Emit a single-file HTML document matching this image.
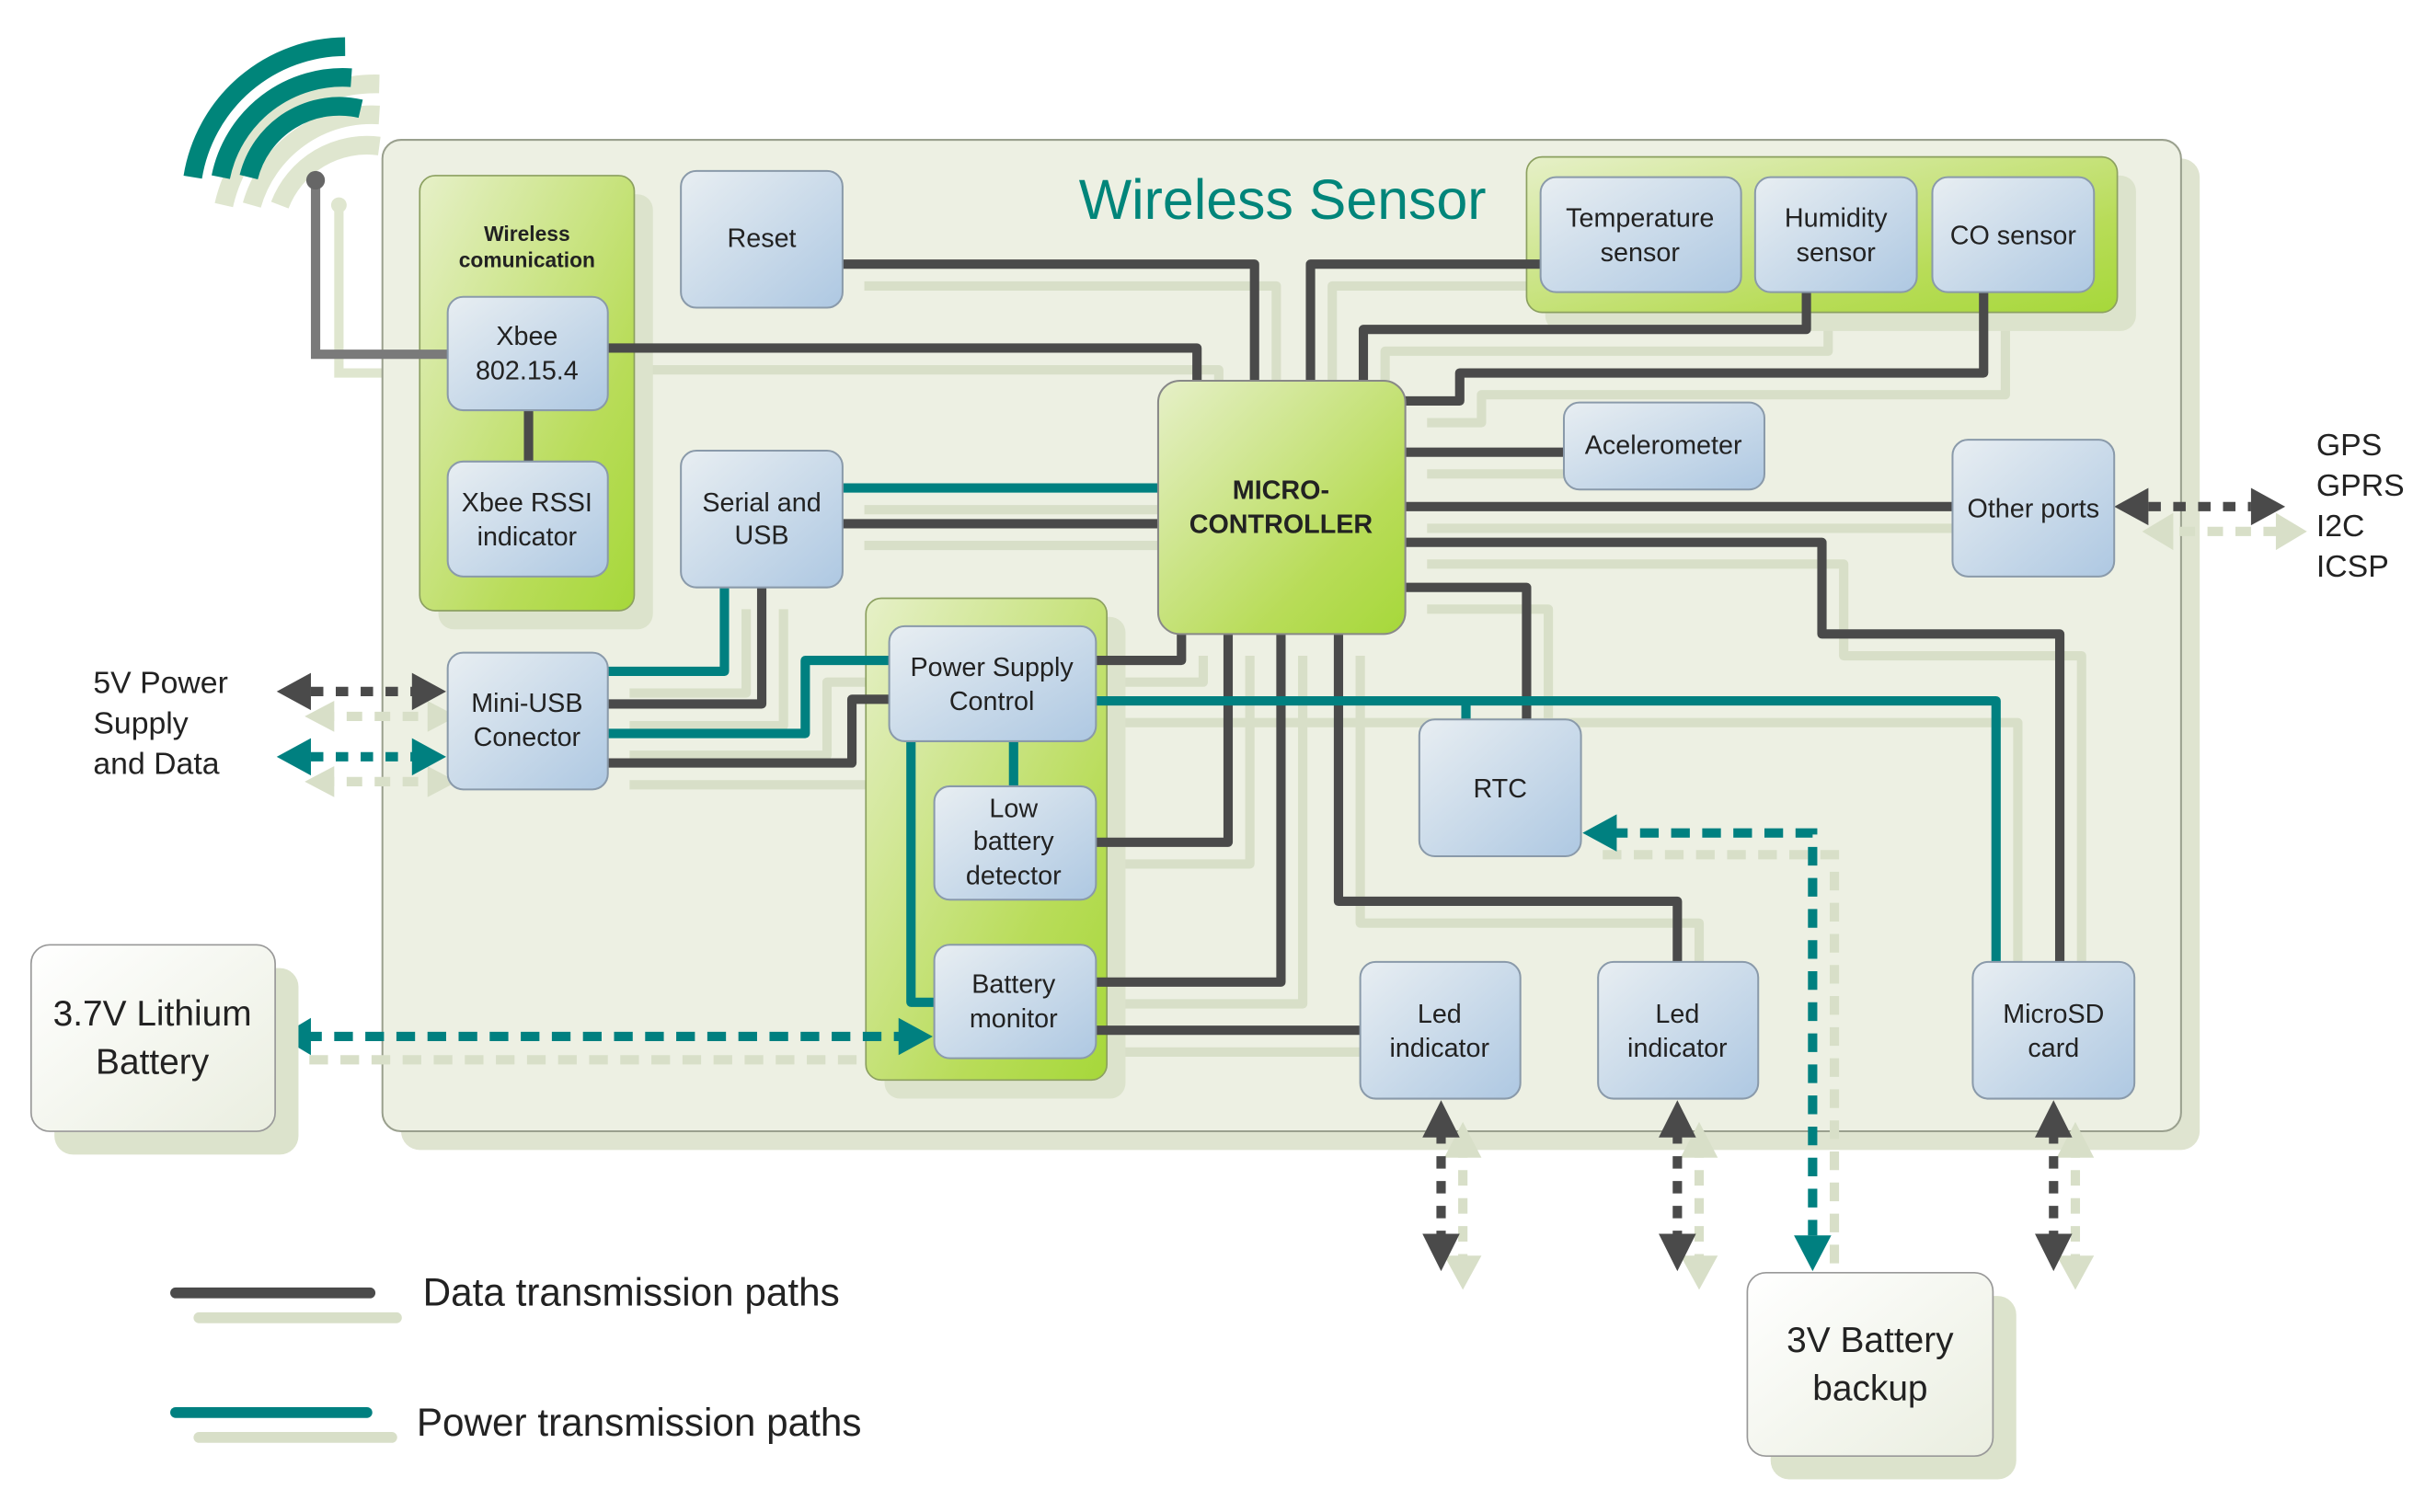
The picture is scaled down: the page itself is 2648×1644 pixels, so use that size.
<!DOCTYPE html>
<html><head><meta charset="utf-8"><style>
html,body{margin:0;padding:0;background:#fff;}
svg{display:block;}
text{font-family:"Liberation Sans",sans-serif;fill:#222;}
</style></head><body>
<svg width="2648" height="1644" viewBox="0 0 1567 973" preserveAspectRatio="none" xmlns="http://www.w3.org/2000/svg">
<defs>
<linearGradient id="blue" x1="0" y1="0" x2="1" y2="1"><stop offset="0" stop-color="#e8eef2"/><stop offset="1" stop-color="#aec8e2"/></linearGradient>
<linearGradient id="green" x1="0" y1="0" x2="1" y2="1"><stop offset="0" stop-color="#e6f0c8"/><stop offset="0.7" stop-color="#b8dc58"/><stop offset="1" stop-color="#a6d83a"/></linearGradient>
<linearGradient id="white" x1="0" y1="0" x2="1" y2="1"><stop offset="0" stop-color="#ffffff"/><stop offset="1" stop-color="#eaeee0"/></linearGradient>
<g id="dl" fill="none" stroke-linejoin="round">
<path d="M542,170 H807 V245"/>
<path d="M391,224 H770 V245"/>
<path d="M991,170 H843 V245"/>
<path d="M1162,188 V212 H877 V245"/>
<path d="M1276,188 V240 H939 V258 H904"/>
<path d="M904,291 H1006"/>
<path d="M904,326 H1256"/>
<path d="M904,349 H1172 V408 H1325 V619"/>
<path d="M904,378 H982 V463"/>
<path d="M542,337 H745"/>
<path d="M490,378 V453 H391"/>
<path d="M391,491 H548 V450 H572"/>
<path d="M705,425 H760 V408"/>
<path d="M705,542 H790 V408"/>
<path d="M705,632 H824 V408"/>
<path d="M705,663 H875"/>
<path d="M861,408 V580 H1079 V619"/>
<path d="M340,264 V297"/>
</g>
<g id="tl" fill="none" stroke-linejoin="round">
<path d="M542,314 H745"/>
<path d="M391,432 H466 V378"/>
<path d="M391,472 H518 V425 H572"/>
<path d="M705,451 H1284 V619"/>
<path d="M943,451 V463"/>
<path d="M652,477 V506"/>
<path d="M586,477 V645 H601"/>
</g>
</defs>
<g fill="none" stroke-width="12" stroke-linecap="butt">
<path d="M132,126 A100,100 0 0 1 232,48" stroke="#dfe6cf" transform="translate(12,6)"/>
<path d="M150,126 A80,80 0 0 1 232,68" stroke="#dfe6cf" transform="translate(12,6)"/>
<path d="M168,126 A60,60 0 0 1 232,88" stroke="#dfe6cf" transform="translate(12,6)"/>
<path d="M124,114 A100,100 0 0 1 222,30" stroke="#00857a"/>
<path d="M142,114 A80,80 0 0 1 226,50" stroke="#00857a"/>
<path d="M160,114 A60,60 0 0 1 232,70" stroke="#00857a"/>
</g>
<path d="M218,132 V240 H300" fill="none" stroke="#dfe6cf" stroke-width="6"/>
<circle cx="218" cy="132" r="5" fill="#dfe6cf"/>
<rect x="258" y="102" width="1157" height="638" rx="12" fill="#dfe4d0"/>
<rect x="246" y="90" width="1157" height="638" rx="12" fill="#edf0e3" stroke="#9aa08e" stroke-width="1.2"/>
<text x="825" y="141" font-size="36" text-anchor="middle" style="fill:#00857a">Wireless Sensor</text>
<use href="#dl" transform="translate(14,14)" stroke="#d8dfc8" stroke-width="6"/>
<use href="#tl" transform="translate(14,14)" stroke="#d8dfc8" stroke-width="6"/>
<path d="M199,682 H599" stroke="#d8dfc8" stroke-width="6" stroke-dasharray="12,8" fill="none"/>
<path d="M1031,550 H1180 V824" stroke="#d8dfc8" stroke-width="6" stroke-dasharray="12,8" fill="none"/>
<rect x="282" y="125" width="138" height="280" rx="10" fill="#dce3cc"/>
<rect x="270" y="113" width="138" height="280" rx="10" fill="url(#green)" stroke="#8ca060"/>
<rect x="994" y="113" width="380" height="100" rx="10" fill="#dce3cc"/>
<rect x="982" y="101" width="380" height="100" rx="10" fill="url(#green)" stroke="#8ca060"/>
<rect x="569" y="397" width="155" height="310" rx="10" fill="#dce3cc"/>
<rect x="557" y="385" width="155" height="310" rx="10" fill="url(#green)" stroke="#8ca060"/>
<text x="339" y="155" font-size="13.5" font-weight="bold" text-anchor="middle">Wireless</text>
<text x="339" y="172" font-size="13.5" font-weight="bold" text-anchor="middle">comunication</text>
<path d="M203,116 V228 H288" fill="none" stroke="#7a7a7a" stroke-width="6"/>
<circle cx="203" cy="116" r="6" fill="#666"/>
<use href="#dl" stroke="#4a4a4a" stroke-width="6"/>
<use href="#tl" stroke="#008080" stroke-width="6"/>
<path d="M195,667 H580" stroke="#008080" stroke-width="6" stroke-dasharray="12,8" fill="none"/>
<polygon points="180,667 200,655 200,679" fill="#008080"/>
<polygon points="600,667 578,655 578,679" fill="#008080"/>
<path d="M1035,536 H1166 V795" stroke="#008080" stroke-width="6" stroke-dasharray="12,8" fill="none"/>
<polygon points="1018,536 1040,524 1040,548" fill="#008080"/>
<polygon points="1166,818 1154,795 1178,795" fill="#008080"/>
<g stroke="#d8dfc8" stroke-width="6" stroke-dasharray="10,8" fill="#d8dfc8">
<path d="M205,461 H280"/><path d="M205,503 H280"/><path d="M1384,342 H1470"/>
<path d="M941,735 V815"/><path d="M1093,735 V815"/><path d="M1335,735 V815"/>
</g>
<g fill="#d8dfc8">
<polygon points="196,461 215,451 215,471"/><polygon points="196,503 215,493 215,513"/>
<polygon points="294,461 275,451 275,471"/><polygon points="294,503 275,493 275,513"/>
<polygon points="1378,342 1398,330 1398,354"/><polygon points="1484,342 1464,330 1464,354"/>
<polygon points="941,722 929,745 953,745"/><polygon points="941,830 929,808 953,808"/>
<polygon points="1093,722 1081,745 1105,745"/><polygon points="1093,830 1081,808 1105,808"/>
<polygon points="1335,722 1323,745 1347,745"/><polygon points="1335,830 1323,808 1347,808"/>
</g>
<g stroke-width="6" stroke-dasharray="8,8" fill="none">
<path d="M200,445 H268" stroke="#4a4a4a"/>
<path d="M200,487 H268" stroke="#008080"/>
<path d="M1382,326 H1448" stroke="#4a4a4a"/>
<path d="M927,728 V798" stroke="#4a4a4a"/>
<path d="M1079,728 V798" stroke="#4a4a4a"/>
<path d="M1321,728 V798" stroke="#4a4a4a"/>
</g>
<g fill="#4a4a4a">
<polygon points="178,445 200,433 200,457"/><polygon points="287,445 265,433 265,457"/>
<polygon points="1360,326 1382,314 1382,338"/><polygon points="1470,326 1448,314 1448,338"/>
<polygon points="927,708 915,732 939,732"/><polygon points="927,818 915,794 939,794"/>
<polygon points="1079,708 1067,732 1091,732"/><polygon points="1079,818 1067,794 1091,794"/>
<polygon points="1321,708 1309,732 1333,732"/><polygon points="1321,818 1309,794 1333,794"/>
</g>
<g fill="#008080">
<polygon points="178,487 200,475 200,499"/><polygon points="287,487 265,475 265,499"/>
</g>
<g stroke="#8a9aaa" stroke-width="1.2" fill="url(#blue)">
<rect x="288" y="191" width="103" height="73" rx="10"/>
<rect x="288" y="297" width="103" height="74" rx="10"/>
<rect x="438" y="110" width="104" height="88" rx="10"/>
<rect x="438" y="290" width="104" height="88" rx="10"/>
<rect x="288" y="420" width="103" height="88" rx="10"/>
<rect x="991" y="114" width="129" height="74" rx="10"/>
<rect x="1129" y="114" width="104" height="74" rx="10"/>
<rect x="1243" y="114" width="104" height="74" rx="10"/>
<rect x="1006" y="259" width="129" height="56" rx="10"/>
<rect x="1256" y="283" width="104" height="88" rx="10"/>
<rect x="572" y="403" width="133" height="74" rx="10"/>
<rect x="601" y="506" width="104" height="73" rx="10"/>
<rect x="601" y="608" width="104" height="73" rx="10"/>
<rect x="913" y="463" width="104" height="88" rx="10"/>
<rect x="875" y="619" width="103" height="88" rx="10"/>
<rect x="1028" y="619" width="103" height="88" rx="10"/>
<rect x="1269" y="619" width="104" height="88" rx="10"/>
</g>
<rect x="745" y="245" width="159" height="163" rx="14" fill="url(#green)" stroke="#888" stroke-width="1.2"/>
<rect x="35" y="623" width="157" height="120" rx="12" fill="#dce3cc"/>
<rect x="20" y="608" width="157" height="120" rx="12" fill="url(#white)" stroke="#999"/>
<rect x="1139" y="834" width="158" height="118" rx="12" fill="#dce3cc"/>
<rect x="1124" y="819" width="158" height="118" rx="12" fill="url(#white)" stroke="#999"/>
<g font-size="17" text-anchor="middle">
<text x="339" y="222">Xbee</text><text x="339" y="244">802.15.4</text>
<text x="339" y="329">Xbee RSSI</text><text x="339" y="351">indicator</text>
<text x="490" y="159">Reset</text>
<text x="490" y="329">Serial and</text><text x="490" y="350">USB</text>
<text x="339" y="458">Mini-USB</text><text x="339" y="480">Conector</text>
<text x="1055" y="146">Temperature</text><text x="1055" y="168">sensor</text>
<text x="1181" y="146">Humidity</text><text x="1181" y="168">sensor</text>
<text x="1295" y="157">CO sensor</text>
<text x="1070" y="292">Acelerometer</text>
<text x="1308" y="333">Other ports</text>
<text x="638" y="435">Power Supply</text><text x="638" y="457">Control</text>
<text x="652" y="526">Low</text><text x="652" y="547">battery</text><text x="652" y="569">detector</text>
<text x="652" y="639">Battery</text><text x="652" y="661">monitor</text>
<text x="965" y="513">RTC</text>
<text x="926" y="658">Led</text><text x="926" y="680">indicator</text>
<text x="1079" y="658">Led</text><text x="1079" y="680">indicator</text>
<text x="1321" y="658">MicroSD</text><text x="1321" y="680">card</text>
<text x="824" y="321" font-weight="bold">MICRO-</text><text x="824" y="343" font-weight="bold">CONTROLLER</text>
<text x="98" y="660" font-size="23">3.7V Lithium</text><text x="98" y="691" font-size="23">Battery</text>
<text x="1203" y="870" font-size="23">3V Battery</text><text x="1203" y="901" font-size="23">backup</text>
</g>
<g font-size="20">
<text x="60" y="446">5V Power</text><text x="60" y="472">Supply</text><text x="60" y="498">and Data</text>
<text x="1490" y="293">GPS</text><text x="1490" y="319">GPRS</text><text x="1490" y="345">I2C</text><text x="1490" y="371">ICSP</text>
<text x="272" y="840" font-size="25">Data transmission paths</text>
<text x="268" y="924" font-size="25">Power transmission paths</text>
</g>
<path d="M128,848 H255" stroke="#d8dfc8" stroke-width="7" stroke-linecap="round"/>
<path d="M113,832 H238" stroke="#4a4a4a" stroke-width="7" stroke-linecap="round"/>
<path d="M128,925 H252" stroke="#d8dfc8" stroke-width="7" stroke-linecap="round"/>
<path d="M113,909 H236" stroke="#008080" stroke-width="7" stroke-linecap="round"/>
</svg>
</body></html>
